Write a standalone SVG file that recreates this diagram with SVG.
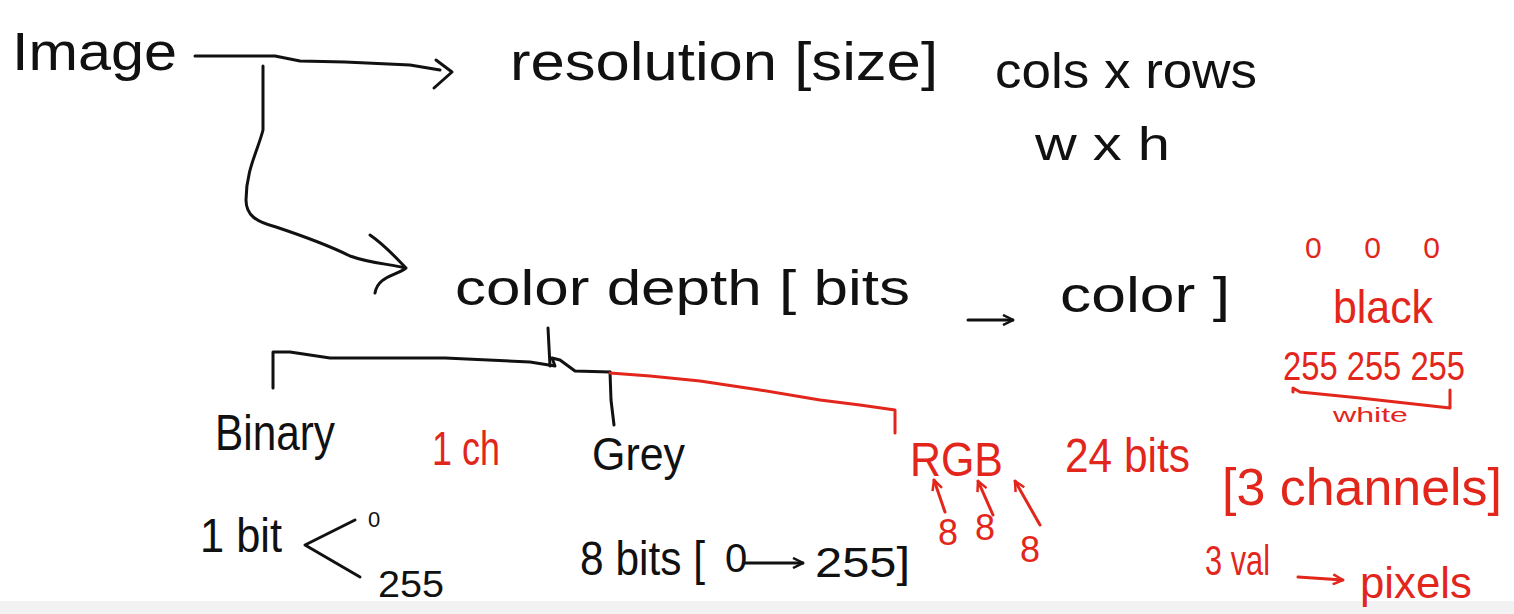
<svg xmlns="http://www.w3.org/2000/svg" width="1514" height="614" viewBox="0 0 1514 614">
<style>
text{font-family:"Liberation Sans","DejaVu Sans",sans-serif;fill:#111}
.r{fill:#e3261c}
.ln{fill:none;stroke:#111;stroke-width:3;stroke-linecap:round;stroke-linejoin:round}
.rl{fill:none;stroke:#e3261c;stroke-width:3;stroke-linecap:round;stroke-linejoin:round}
</style>
<defs>
<marker id="ah" viewBox="0 0 12 12" refX="11" refY="6" markerWidth="12" markerHeight="12" markerUnits="userSpaceOnUse" orient="auto">
<path d="M1,1 L11,6 L1,11" fill="none" stroke="#111" stroke-width="2.5"/>
</marker>
<marker id="ahr" viewBox="0 0 12 12" refX="11" refY="6" markerWidth="12" markerHeight="12" markerUnits="userSpaceOnUse" orient="auto">
<path d="M1,1 L11,6 L1,11" fill="none" stroke="#e3261c" stroke-width="2.5"/>
</marker>
</defs>
<rect width="1514" height="614" fill="#fff"/>
<rect x="0" y="601" width="1514" height="13" fill="#f2f2f2"/>

<g id="connectors">
<path class="ln" d="M195,56 L275,56 L300,61 L345,62 L410,65 L440,70"/>
<path class="ln" d="M436,60 L452,72 L434,88"/>
<path class="ln" d="M263,66 L263,130 C258,150 246,170 246,200 C246,215 256,222 276,227 C300,235 330,246 350,256 C372,264 392,264 405,268"/>
<path class="ln" d="M370,235 C386,246 396,258 406,268 C396,276 378,276 375,293"/>
<path class="ln" d="M548,328 L550,366"/>
<path class="ln" d="M273,388 L273,352 L290,352 L330,358 L445,358 L530,362 L555,366 L552,358 L560,360 L575,371 L610,372"/>
<path class="ln" d="M610,372 L611,400 L614,425"/>
<path class="rl" d="M610,373 L650,376 L700,381 L760,390 L820,400 L860,405 L895,410 L895,433"/>
<path class="ln" d="M968,320 L1013,320" marker-end="url(#ah)"/>
<path class="ln" d="M355,520 L305,545 L360,577"/>
<path class="ln" d="M745,563 L803,563" marker-end="url(#ah)"/>
<path class="rl" d="M945,512 L934,480" marker-end="url(#ahr)"/>
<path class="rl" d="M993,515 L978,481" marker-end="url(#ahr)"/>
<path class="rl" d="M1040,525 L1015,481" marker-end="url(#ahr)"/>
<path class="rl" d="M1293,392 L1293,388 L1300,392 L1360,398 L1450,408 L1450,390"/>
<path class="rl" d="M1298,577 L1343,580" marker-end="url(#ahr)"/>
</g>

<g id="image"><text x="12" y="70" font-size="54" textLength="165" lengthAdjust="spacingAndGlyphs">Image</text></g>
<g id="resolution"><text x="510" y="80" font-size="54" textLength="428" lengthAdjust="spacingAndGlyphs">resolution [size]</text></g>
<g id="cols-rows"><text x="995" y="88" font-size="50" textLength="262" lengthAdjust="spacingAndGlyphs">cols x rows</text>
<text x="1035" y="160" font-size="46" textLength="135" lengthAdjust="spacingAndGlyphs">w x h</text></g>
<g id="color-depth"><text x="455" y="305" font-size="50" textLength="455" lengthAdjust="spacingAndGlyphs">color depth [ bits</text>
<text x="1060" y="312" font-size="50" textLength="170" lengthAdjust="spacingAndGlyphs">color ]</text></g>
<g id="black"><text class="r" x="1305" y="258" font-size="30" textLength="135" lengthAdjust="spacing">0 0 0</text>
<text class="r" x="1333" y="323" font-size="46" textLength="100" lengthAdjust="spacingAndGlyphs">black</text>
<text class="r" x="1283" y="380" font-size="40" textLength="182" lengthAdjust="spacingAndGlyphs">255 255 255</text>
<text class="r" x="1333" y="422" font-size="20" textLength="75" lengthAdjust="spacingAndGlyphs">white</text></g>
<g id="binary"><text x="215" y="450" font-size="50" textLength="120" lengthAdjust="spacingAndGlyphs">Binary</text>
<text x="200" y="552" font-size="48" textLength="82" lengthAdjust="spacingAndGlyphs">1 bit</text>
<text x="368" y="527" font-size="22">0</text>
<text x="378" y="597" font-size="36" textLength="66" lengthAdjust="spacingAndGlyphs">255</text></g>
<g id="one-ch"><text class="r" x="432" y="465" font-size="48" textLength="68" lengthAdjust="spacingAndGlyphs">1 ch</text></g>
<g id="grey"><text x="592" y="470" font-size="46" textLength="93" lengthAdjust="spacingAndGlyphs">Grey</text>
<text x="580" y="575" font-size="48" textLength="125" lengthAdjust="spacingAndGlyphs">8 bits [</text>
<text x="725" y="572" font-size="40">0</text>
<text x="815" y="577" font-size="42" textLength="95" lengthAdjust="spacingAndGlyphs">255]</text></g>
<g id="rgb"><text class="r" x="910" y="476" font-size="48" textLength="93" lengthAdjust="spacingAndGlyphs">RGB</text>
<text class="r" x="938" y="545" font-size="36">8</text>
<text class="r" x="975" y="540" font-size="36">8</text>
<text class="r" x="1020" y="562" font-size="36">8</text>
<text class="r" x="1065" y="472" font-size="48" textLength="125" lengthAdjust="spacingAndGlyphs">24 bits</text>
<text class="r" x="1222" y="505" font-size="52" textLength="280" lengthAdjust="spacingAndGlyphs">[3 channels]</text>
<text class="r" x="1205" y="575" font-size="42" textLength="65" lengthAdjust="spacingAndGlyphs">3 val</text>
<text class="r" x="1360" y="598" font-size="44" textLength="112" lengthAdjust="spacingAndGlyphs">pixels</text></g>
</svg>
